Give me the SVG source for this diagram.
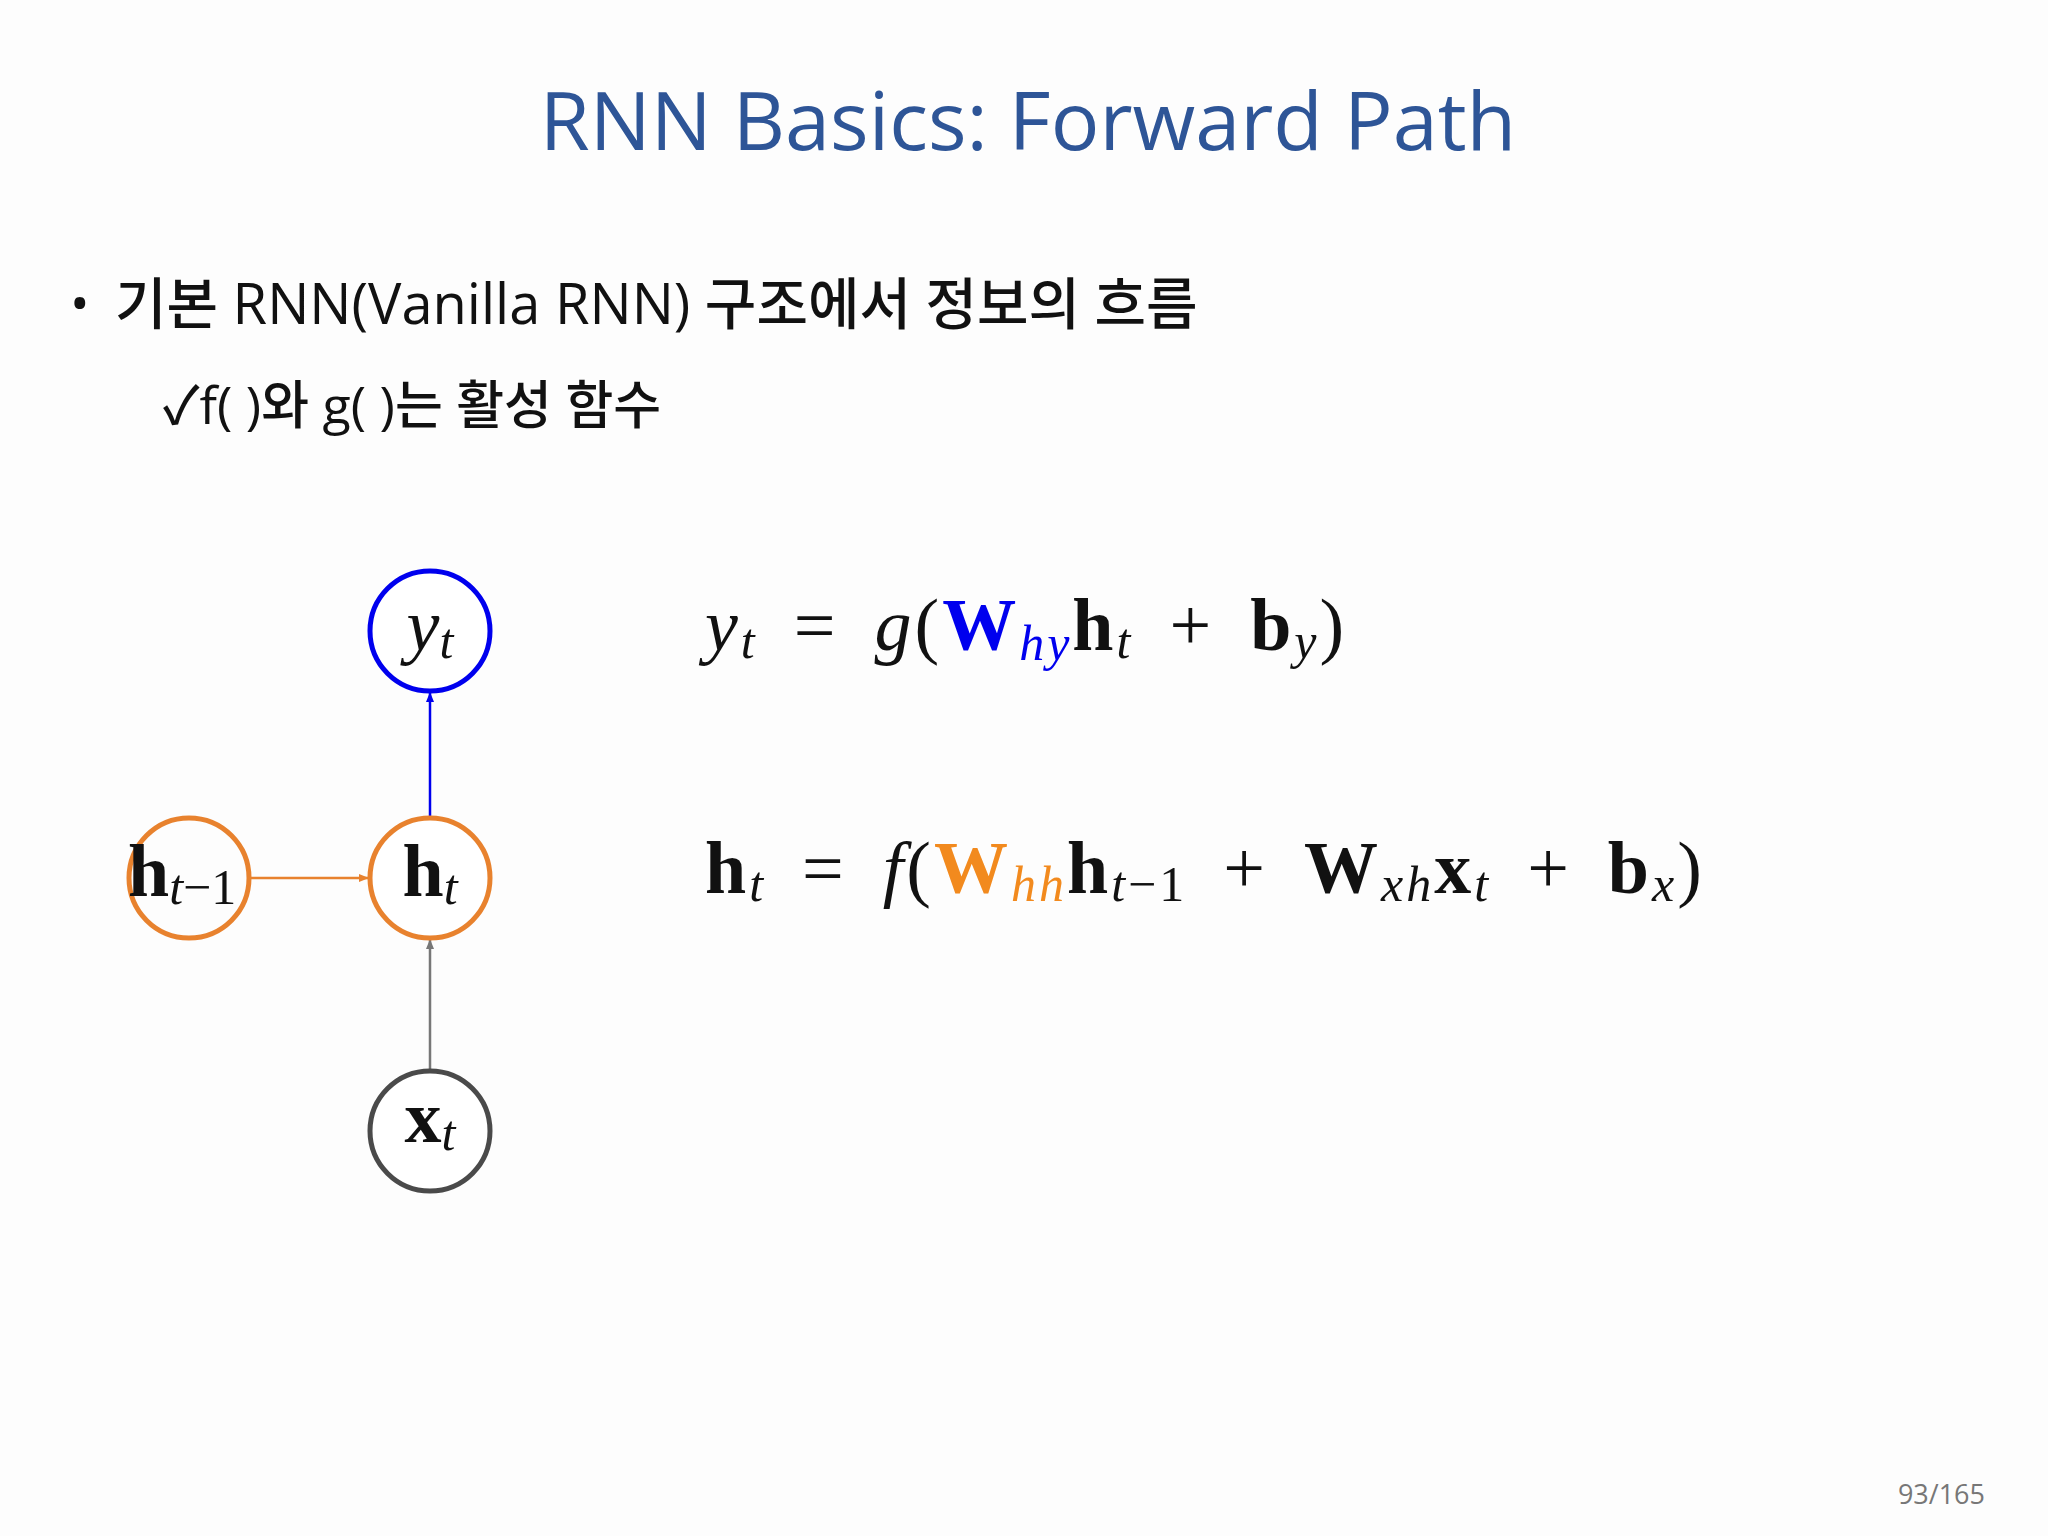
<svg xmlns="http://www.w3.org/2000/svg" width="2048" height="1536" viewBox="0 0 2048 1536">
<style>
.title{font-family:"Open Sans","Noto Sans",sans-serif;font-size:81px;fill:#2e5597}
.kr{font-family:"Open Sans","Noto Sans CJK KR",sans-serif;fill:#111;font-weight:500}
.m{font-family:"Liberation Serif",serif;font-size:74px;fill:#111}
.it{font-style:italic}
.b{font-weight:bold}
.sub{font-size:50px}
.node{fill:#fff;stroke-width:5}
</style>
<defs>
<marker id="ao" markerWidth="10" markerHeight="10" refX="9" refY="5" orient="auto" markerUnits="userSpaceOnUse"><path d="M0,1 L10,5 L0,9z" fill="#e8822e"/></marker>
<marker id="ab" markerWidth="10" markerHeight="10" refX="9" refY="5" orient="auto" markerUnits="userSpaceOnUse"><path d="M0,1 L10,5 L0,9z" fill="#0000ee"/></marker>
<marker id="ag" markerWidth="10" markerHeight="10" refX="9" refY="5" orient="auto" markerUnits="userSpaceOnUse"><path d="M0,1 L10,5 L0,9z" fill="#777"/></marker>
</defs>
<rect width="2048" height="1536" fill="#fdfdfd"/>
<text class="title" x="1028" y="150" text-anchor="middle">RNN Basics: Forward Path</text>
<text class="kr" x="70" y="322" font-size="52">•</text>
<text class="kr" x="115" y="324" font-size="56">기본 RNN(Vanilla RNN) 구조에서 정보의 흐름</text>
<text class="kr" x="163" y="424" font-size="52">✓f( )와 g( )는 활성 함수</text>
<g id="connectors" stroke-width="2.5" fill="none">
<line x1="250" y1="878" x2="368" y2="878" stroke="#e8822e" marker-end="url(#ao)"/>
<line x1="430" y1="816" x2="430" y2="693" stroke="#0000ee" marker-end="url(#ab)"/>
<line x1="430" y1="1071" x2="430" y2="940" stroke="#777" marker-end="url(#ag)"/>
</g>
<g id="node-yt"><circle class="node" cx="430" cy="631" r="60" stroke="#0000ee"/><text class="m" x="430" y="650" text-anchor="middle"><tspan class="it">y</tspan><tspan class="it sub" dy="8">t</tspan></text></g>
<g id="node-ht"><circle class="node" cx="430" cy="878" r="60" stroke="#e8822e"/><text class="m" x="430" y="896" text-anchor="middle"><tspan class="b">h</tspan><tspan class="it sub" dy="8">t</tspan></text></g>
<g id="node-htm1"><circle cx="189" cy="878" r="60" stroke="#e8822e" stroke-width="5" fill="none"/><text class="m" x="128" y="896"><tspan class="b">h</tspan><tspan class="it sub" dy="8">t</tspan><tspan class="sub">−1</tspan></text></g>
<g id="node-xt"><circle class="node" cx="430" cy="1131" r="60" stroke="#4a4a4a"/><text class="m" x="430" y="1142" text-anchor="middle"><tspan class="b">x</tspan><tspan class="it sub" dy="8">t</tspan></text></g>
<text class="m" x="705" y="650" letter-spacing="3"><tspan class="it">y</tspan><tspan class="it sub" dy="8">t</tspan><tspan dy="-8" dx="36">=</tspan><tspan class="it" dx="36">g</tspan>(<tspan class="b" fill="#0000ee">W</tspan><tspan class="it sub" fill="#0000ee" dy="10">hy</tspan><tspan class="b" dy="-10">h</tspan><tspan class="it sub" dy="8">t</tspan><tspan dy="-8" dx="36">+</tspan><tspan class="b" dx="36">b</tspan><tspan class="it sub" dy="8">y</tspan><tspan dy="-8">)</tspan></text>
<text class="m" x="705" y="893" letter-spacing="3"><tspan class="b">h</tspan><tspan class="it sub" dy="8">t</tspan><tspan dy="-8" dx="36">=</tspan><tspan class="it" dx="36">f</tspan>(<tspan class="b" fill="#f28a1e">W</tspan><tspan class="it sub" fill="#f28a1e" dy="8">hh</tspan><tspan class="b" dy="-8">h</tspan><tspan class="it sub" dy="8">t</tspan><tspan class="sub">−1</tspan><tspan dy="-8" dx="36">+</tspan><tspan class="b" dx="36">W</tspan><tspan class="it sub" dy="8">xh</tspan><tspan class="b" dy="-8">x</tspan><tspan class="it sub" dy="8">t</tspan><tspan dy="-8" dx="36">+</tspan><tspan class="b" dx="36">b</tspan><tspan class="it sub" dy="8">x</tspan><tspan dy="-8">)</tspan></text>
<text x="1985" y="1504" text-anchor="end" font-family="'Open Sans',sans-serif" font-size="27" fill="#777">93/165</text>
</svg>
